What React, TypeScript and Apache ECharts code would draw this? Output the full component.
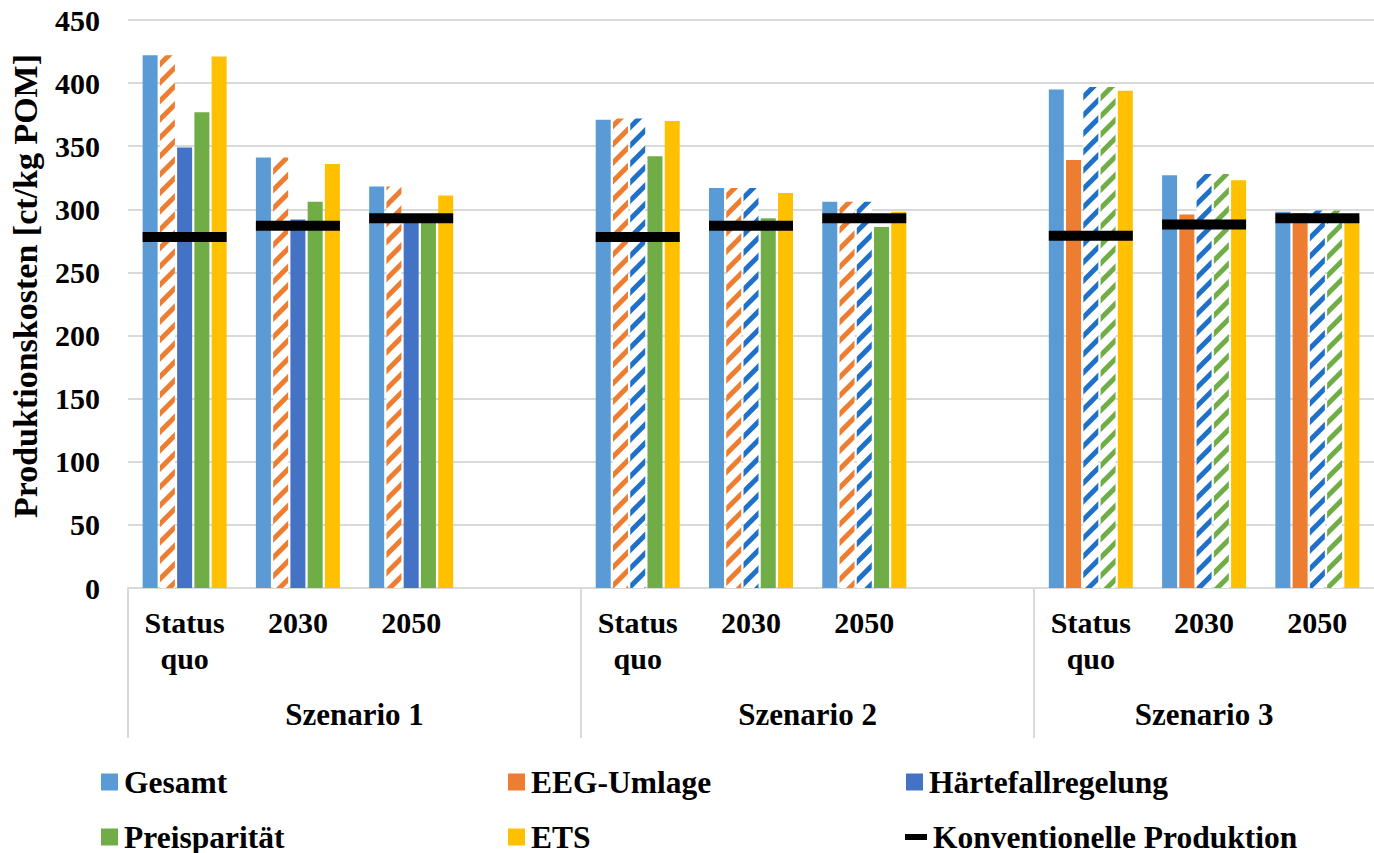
import React, { useEffect, useRef } from 'react';
import * as echarts from 'echarts';

// Production cost per scenario and time horizon (ct/kg POM)
const categories = [
  'Status\nquo', '2030', '2050', '',
  'Status\nquo', '2030', '2050', '',
  'Status\nquo', '2030', '2050',
];
// which scenario each category slot belongs to (null = spacer slot)
const scenarioOfSlot = [0, 0, 0, null, 1, 1, 1, null, 2, 2, 2];
const scenarioLabels = ['Szenario 1', 'Szenario 2', 'Szenario 3'];
const scenarioSlotCounts = [4, 4, 3];

const gesamt = [422, 341, 318, null, 371, 317, 306, null, 395, 327, 298];
const eegUmlage = [422, 341, 318, null, 372, 317, 306, null, 339, 296, 297];
const haertefall = [349, 292, 296, null, 372, 317, 306, null, 397, 328, 299];
const preisparitaet = [377, 306, 296, null, 342, 293, 286, null, 397, 328, 299];
const ets = [421, 336, 311, null, 370, 313, 298, null, 394, 323, 294];
const konventionell = [278, 287, 293, null, 278, 287, 293, null, 279, 288, 293];

const yTicks = { min: 0, max: 450, interval: 50 };

// scenarios in which a measure is shown hatched
const hatchedIn: Record<string, number[]> = {
  'EEG-Umlage': [0, 1],
  'Härtefallregelung': [1, 2],
  'Preisparität': [2],
};

const FONT = 'Liberation Serif, Times New Roman, serif';
const GRID_GRAY = '#D9D9D9';

const barSeriesDefs = [
  { name: 'Gesamt', values: gesamt, color: '#5B9BD5', stripe: '#5B9BD5' },
  { name: 'EEG-Umlage', values: eegUmlage, color: '#ED7D31', stripe: '#ED7D31' },
  { name: 'Härtefallregelung', values: haertefall, color: '#4472C4', stripe: '#1F70C8' },
  { name: 'Preisparität', values: preisparitaet, color: '#70AD47', stripe: '#70AD47' },
  { name: 'ETS', values: ets, color: '#FFC000', stripe: '#FFC000' },
];

function buildBarData(def: typeof barSeriesDefs[number]) {
  const hatched = hatchedIn[def.name] || [];
  return def.values.map((v, i) => {
    if (v == null) return null;
    const sc = scenarioOfSlot[i];
    if (sc != null && hatched.includes(sc)) {
      return {
        value: v,
        itemStyle: {
          color: '#ffffff',
          decal: {
            symbol: 'rect',
            symbolSize: 1,
            color: def.stripe,
            backgroundColor: '#ffffff',
            dashArrayX: [1, 0],
            dashArrayY: [5, 8],
            rotation: -Math.PI / 4,
          },
        },
      };
    }
    return v;
  });
}

const legendItems = [
  { name: 'Gesamt', left: 101, top: 766 },
  { name: 'EEG-Umlage', left: 508, top: 766 },
  { name: 'Härtefallregelung', left: 906, top: 766 },
  { name: 'Preisparität', left: 101, top: 821 },
  { name: 'ETS', left: 508, top: 821 },
  { name: 'Konventionelle Produktion', left: 905, top: 821 },
];

export default function App() {
  const ref = useRef<HTMLDivElement>(null);

  useEffect(() => {
    if (!ref.current) return;
    const chart = echarts.init(ref.current, null, { renderer: 'svg' });

    // scenario boundaries and centres on a continuous 0..N slot scale
    const bounds: number[] = [];
    const centers: number[] = [];
    let acc = 0;
    scenarioSlotCounts.forEach((n) => {
      bounds.push(acc);
      centers.push(acc + n / 2);
      acc += n;
    });
    const totalSlots = categories.length;

    const labelStyle = {
      fontFamily: FONT,
      fontWeight: 'bold' as const,
      fontSize: 30,
      color: '#000',
    };

    const series: any[] = barSeriesDefs.map((def) => ({
      name: def.name,
      type: 'bar',
      xAxisIndex: 0,
      barWidth: 15,
      barGap: '15%',
      itemStyle: { color: def.color },
      data: buildBarData(def),
    }));

    series.push({
      name: 'Konventionelle Produktion',
      type: 'scatter',
      xAxisIndex: 0,
      symbol: 'rect',
      symbolSize: [84, 10],
      itemStyle: { color: '#000', opacity: 1 },
      z: 5,
      data: konventionell,
    });

    chart.setOption({
      animation: false,
      backgroundColor: '#ffffff',
      textStyle: { fontFamily: FONT },
      grid: { left: 128, right: -8, top: 20, bottom: 265, containLabel: false },
      legend: legendItems.map((it) => ({
        data: [
          it.name === 'Konventionelle Produktion'
            ? { name: it.name, icon: 'rect', itemStyle: { color: '#000', opacity: 1 } }
            : { name: it.name, icon: 'rect' },
        ],
        left: it.left,
        top: it.top,
        padding: 0,
        itemWidth: it.name === 'Konventionelle Produktion' ? 22 : 17,
        itemHeight: it.name === 'Konventionelle Produktion' ? 6 : 17,
        selectedMode: false,
        textStyle: { ...labelStyle, fontSize: 31.5, padding: [0, 0, 0, 1] },
      })),
      xAxis: [
        {
          type: 'category',
          data: categories,
          position: 'bottom',
          axisLine: { show: true, lineStyle: { color: GRID_GRAY, width: 2 } },
          axisTick: { show: false },
          axisLabel: {
            ...labelStyle,
            interval: 0,
            lineHeight: 36,
            margin: 16,
          },
          splitLine: { show: false },
        },
        {
          type: 'value',
          min: 0,
          max: totalSlots,
          position: 'bottom',
          axisLine: { show: false },
          splitLine: { show: false },
          axisTick: {
            show: true,
            customValues: bounds,
            length: 150,
            lineStyle: { color: GRID_GRAY, width: 2 },
          },
          axisLabel: {
            ...labelStyle,
            fontSize: 31,
            customValues: centers,
            margin: 111,
            formatter: (v: number) => {
              const idx = centers.findIndex((c) => Math.abs(c - v) < 1e-6);
              return idx >= 0 ? scenarioLabels[idx] : '';
            },
          },
        },
      ],
      yAxis: {
        type: 'value',
        min: yTicks.min,
        max: yTicks.max,
        interval: yTicks.interval,
        name: 'Produktionskosten [ct/kg POM]',
        nameLocation: 'middle',
        nameRotate: 90,
        nameGap: 86,
        nameTextStyle: { ...labelStyle, fontSize: 34, padding: [0, 0, 0, 36] },
        axisLine: { show: false },
        axisTick: { show: false },
        axisLabel: { ...labelStyle, margin: 28 },
        splitLine: { show: true, lineStyle: { color: GRID_GRAY, width: 2 } },
      },
      series,
    });

    return () => chart.dispose();
  }, []);

  return (
    <div
      ref={ref}
      style={{ position: 'absolute', left: 0, top: 0, width: 1374, height: 853 }}
    />
  );
}
